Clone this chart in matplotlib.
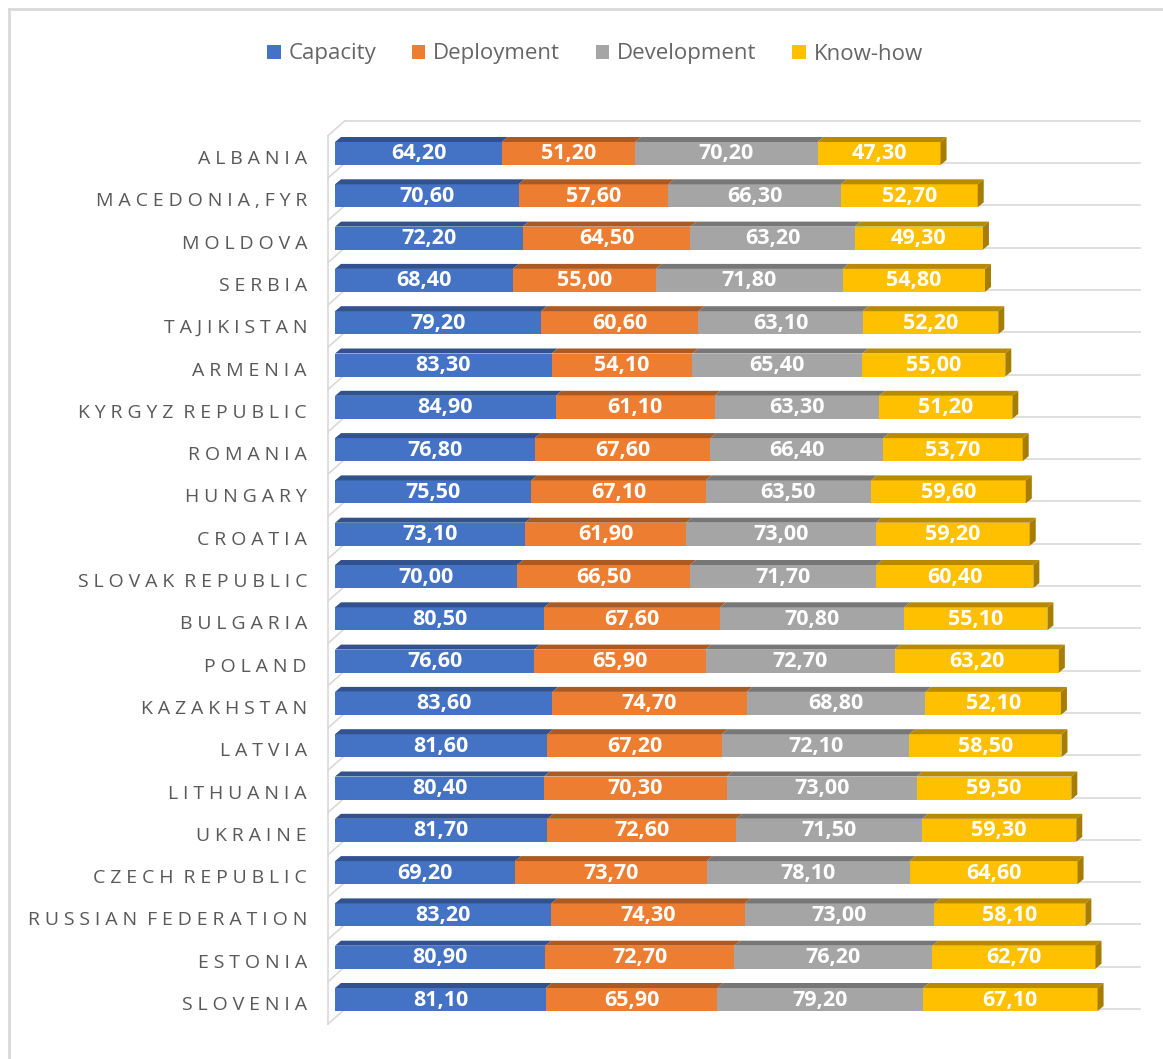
import numpy as np
import matplotlib
matplotlib.use("Agg")
import matplotlib.pyplot as plt
from matplotlib.patches import Polygon, Patch
from matplotlib.lines import Line2D
from matplotlib.colors import to_rgb

plt.rcParams['font.family'] = ['Open Sans', 'DejaVu Sans']

countries = ["ALBANIA", "MACEDONIA,FYR", "MOLDOVA", "SERBIA", "TAJIKISTAN", "ARMENIA",
             "KYRGYZ REPUBLIC", "ROMANIA", "HUNGARY", "CROATIA", "SLOVAK REPUBLIC",
             "BULGARIA", "POLAND", "KAZAKHSTAN", "LATVIA", "LITHUANIA", "UKRAINE",
             "CZECH REPUBLIC", "RUSSIAN FEDERATION", "ESTONIA", "SLOVENIA"]
capacity = [64.2, 70.6, 72.2, 68.4, 79.2, 83.3, 84.9, 76.8, 75.5, 73.1, 70.0,
            80.5, 76.6, 83.6, 81.6, 80.4, 81.7, 69.2, 83.2, 80.9, 81.1]
deployment = [51.2, 57.6, 64.5, 55.0, 60.6, 54.1, 61.1, 67.6, 67.1, 61.9, 66.5,
              67.6, 65.9, 74.7, 67.2, 70.3, 72.6, 73.7, 74.3, 72.7, 65.9]
development = [70.2, 66.3, 63.2, 71.8, 63.1, 65.4, 63.3, 66.4, 63.5, 73.0, 71.7,
               70.8, 72.7, 68.8, 72.1, 73.0, 71.5, 78.1, 73.0, 76.2, 79.2]
knowhow = [47.3, 52.7, 49.3, 54.8, 52.2, 55.0, 51.2, 53.7, 59.6, 59.2, 60.4,
           55.1, 63.2, 52.1, 58.5, 59.5, 59.3, 64.6, 58.1, 62.7, 67.1]
series_names = ["Capacity", "Deployment", "Development", "Know-how"]
colors = ["#4472C4", "#ED7D31", "#A5A5A5", "#FFC000"]


def shade(c, f):
    r, g, b = to_rgb(c)
    return (r * f, g * f, b * f)


def spaced(name):
    # fake letter spacing like the excel axis labels
    out = ""
    for i, ch in enumerate(name):
        out += ch
        if i < len(name) - 1 and ch != " ":
            out += "\u2005"
    return out


W, H = 1163, 1059
fig = plt.figure(figsize=(W / 100, H / 100), dpi=100)

# pixel layout -> data units
px_x0, px_per_unit = 335, 2.6
px_y0, px_per_row = 153.5, 42.3
ax_left, ax_right, ax_top, ax_bot = 320, 1145, 100, 1045
ax = fig.add_axes([ax_left / W, 1 - ax_bot / H, (ax_right - ax_left) / W, (ax_bot - ax_top) / H])
ax.set_xlim((ax_left - px_x0) / px_per_unit, (ax_right - px_x0) / px_per_unit)
ax.set_ylim((ax_bot - px_y0) / px_per_row, (ax_top - px_y0) / px_per_row)
ax.axis("off")

ux = 1 / px_per_unit
uy = 1 / px_per_row
depth_x, depth_y = 6 * ux, -5 * uy
half = 11.5 * uy
y = np.arange(len(countries))
grid_c = "#D9D9D9"

# back wall gridlines + left wall
for k in range(-1, len(countries)):
    g = k + 9.5 * uy
    ax.plot([10 * ux, 795 * ux + 10 * ux], [g, g], color=grid_c, lw=1.2, zorder=1, clip_on=False)
    ax.plot([10 * ux, -7 * ux], [g, g + 15 * uy], color=grid_c, lw=1.2, zorder=1, clip_on=False)
top_g = -1 + 9.5 * uy + 15 * uy
bot_g = len(countries) - 1 + 9.5 * uy + 15 * uy
ax.plot([-7 * ux, -7 * ux], [top_g, bot_g], color=grid_c, lw=1.2, zorder=1, clip_on=False)

data = [capacity, deployment, development, knowhow]
left = np.zeros(len(countries))
for s, (vals, c) in enumerate(zip(data, colors)):
    vals = np.array(vals)
    ax.barh(y, vals, left=left, height=2 * half, color=c, zorder=3)
    for i in range(len(countries)):
        x0, x1 = left[i], left[i] + vals[i]
        yt = y[i] - half
        top = Polygon([[x0, yt], [x1, yt], [x1 + depth_x, yt + depth_y], [x0 + depth_x, yt + depth_y]],
                      closed=True, facecolor=shade(c, 0.72), edgecolor="none", zorder=3)
        ax.add_patch(top)
        if s == len(data) - 1:
            yb = y[i] + half
            side = Polygon([[x1, yt], [x1 + depth_x, yt + depth_y], [x1 + depth_x, yb + depth_y], [x1, yb]],
                           closed=True, facecolor=shade(c, 0.65), edgecolor="none", zorder=3)
            ax.add_patch(side)
        ax.text((x0 + x1) / 2, y[i] + 0.5 * uy, f"{vals[i]:.2f}".replace(".", ","),
                ha="center", va="center", color="white", fontsize=15.5, fontweight="bold", zorder=4)
    left += vals

for i, name in enumerate(countries):
    ax.text(-28 * ux, y[i] + 5.5 * uy, spaced(name), ha="right", va="center",
            color="#595959", fontsize=14, clip_on=False)

# legend
handles = [Patch(facecolor=c, edgecolor="none") for c in colors]
leg = fig.legend(handles, series_names, loc="center", bbox_to_anchor=(595 / W, 1 - 54 / H),
                 ncol=4, frameon=False, fontsize=16, handlelength=0.6, handleheight=0.6,
                 handletextpad=0.36, columnspacing=1.6)
for t in leg.get_texts():
    t.set_color("#666666")

# chart border (only top and left visible)
fig.add_artist(Line2D([9 / W, 1], [1 - 9 / H, 1 - 9 / H], color=grid_c, lw=2, transform=fig.transFigure))
fig.add_artist(Line2D([9 / W, 9 / W], [1 - 9 / H, 0], color=grid_c, lw=2, transform=fig.transFigure))

fig.savefig("out.png", dpi=100)
